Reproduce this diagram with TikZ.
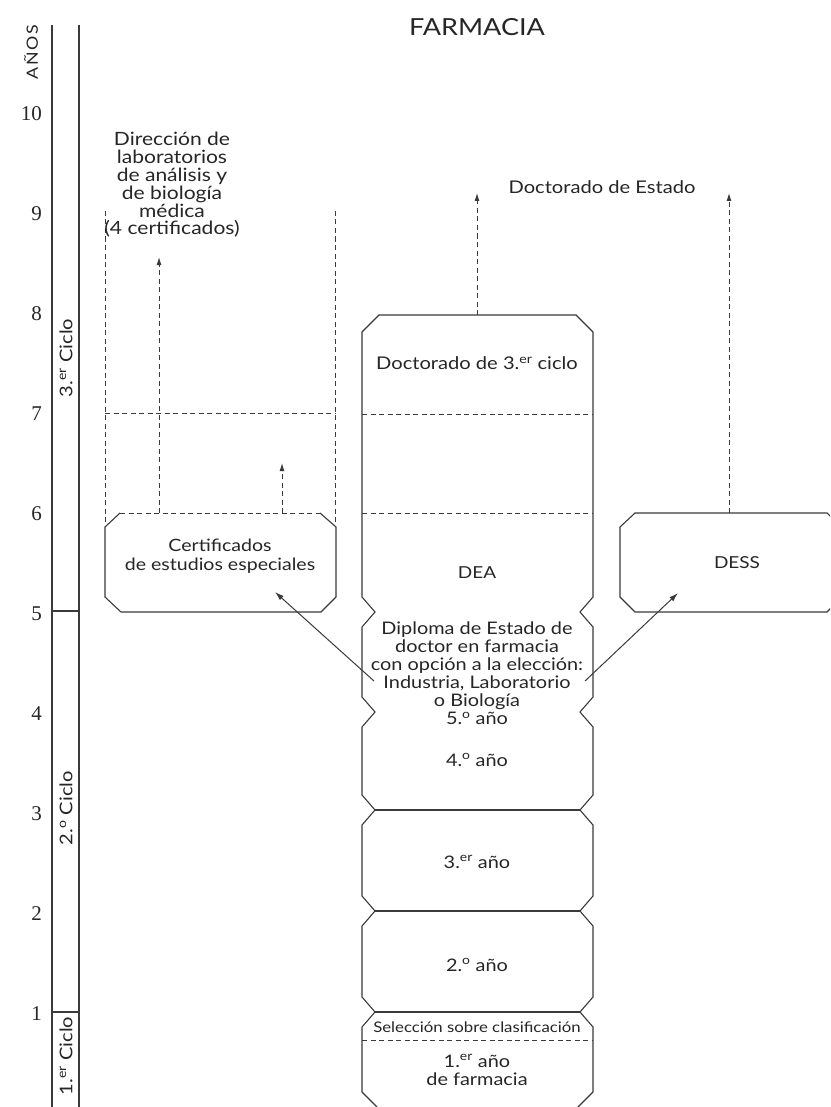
\documentclass[tikz,border=0pt]{standalone}
\usepackage{fontspec}
\setmainfont{Lato}[FakeStretch=1.15]
\newfontfamily\numfont{Liberation Serif}
\usetikzlibrary{arrows.meta}
\definecolor{ink}{HTML}{262626}
\definecolor{ln}{HTML}{3A3A3A}

\newcommand{\fs}[2]{\fontsize{#1}{#2}\selectfont}

\tikzset{
  txt/.style={font=\fs{17.3}{18}, text=ink, align=center, inner sep=0pt},
  smalltxt/.style={font=\fs{14.6}{16}, text=ink, align=center, inner sep=0pt},
  titletxt/.style={font=\fs{23.5}{26}, text=ink, inner sep=0pt},
  yearnum/.style={font=\numfont\fs{21}{22}, text=ink, anchor=east, inner sep=0pt},
  cyclelbl/.style={font=\fs{17.5}{18}, text=ink, rotate=90, inner sep=0pt},
  solidline/.style={draw=ln, line width=1.1pt, line join=miter},
  axisline/.style={draw=ln, line width=1.2pt},
  dashline/.style={draw=ln, line width=1pt, dash pattern=on 5pt off 3.5pt},
  dasharrow/.style={dashline, -{Latex[length=8pt,width=5pt]}},
  solidarrow/.style={draw=ln, line width=1pt, -{Latex[length=9pt,width=5.5pt]}}
}

\begin{document}
\begin{tikzpicture}[x=1pt,y=-1pt]
\useasboundingbox (0,0) rectangle (830,1107);
\fill[white] (0,0) rectangle (830,1107);
\clip (0,0) rectangle (830,1107);

% ---------- title ----------
\node[titletxt] (title) at (477,27) {FARMACIA};

% ---------- time axis ----------
\draw[axisline] (52,25) -- (52,1107);
\draw[axisline] (79,25) -- (79,1107);
\draw[axisline] (52,611) -- (79,611);
\draw[axisline] (52,1012) -- (79,1012);
\node[font=\fs{15.5}{17}\addfontfeature{LetterSpace=12}, text=ink, rotate=90, inner sep=0pt] (anos) at (31,52) {AÑOS};
\foreach \n in {1,...,10}{
  \node[yearnum] (yr\n) at (42,{1114-100*\n}) {\n};
}
\node[cyclelbl] (cyc3) at (66,358) {3.\textsuperscript{er} Ciclo};
\node[cyclelbl] (cyc2) at (66,808) {2.\textsuperscript{o} Ciclo};
\node[cyclelbl] (cyc1) at (66,1056) {1.\textsuperscript{er} Ciclo};

% ---------- central column ----------
\draw[solidline] (377,1107) -- (362,1092)
  -- (362,1027) -- (375,1012) -- (362,997)
  -- (362,926) -- (375,911) -- (362,896)
  -- (362,825) -- (375,810) -- (362,795)
  -- (362,727) -- (375,712) -- (362,697)
  -- (362,627) -- (375,612) -- (362,597)
  -- (362,332) -- (379,315) -- (576,315) -- (593,332)
  -- (593,597) -- (580,612) -- (593,627)
  -- (593,697) -- (580,712) -- (593,727)
  -- (593,795) -- (580,810) -- (593,825)
  -- (593,896) -- (580,911) -- (593,926)
  -- (593,997) -- (580,1012) -- (593,1027)
  -- (593,1092) -- (578,1107);
\draw[solidline] (375,810) -- (580,810);
\draw[solidline] (375,911) -- (580,911);
\draw[solidline] (375,1012) -- (580,1012);
\draw[dashline] (362,414) -- (593,414);
\draw[dashline] (362,513) -- (593,513);
\draw[dashline] (362,1040) -- (593,1040);

\node[txt, font=\fs{17.5}{18}] (doc3) at (477,363) {Doctorado de 3.\textsuperscript{er} ciclo};
\node[txt, font=\fs{16.5}{18}] (dea) at (477,573) {DEA};
\node[txt, font=\fs{17.3}{18}] (diploma) at (477,673) {Diploma de Estado de\\doctor en farmacia\\con opción a la elección:\\Industria, Laboratorio\\o Biología\\5.\textsuperscript{o} año};
\node[txt] (y4) at (477,760) {4.\textsuperscript{o} año};
\node[txt] (y3) at (477,862) {3.\textsuperscript{er} año};
\node[txt] (y2) at (477,965) {2.\textsuperscript{o} año};
\node[smalltxt] (sel) at (477,1027) {Selección sobre clasificación};
\node[txt] (y1) at (477,1070) {1.\textsuperscript{er} año\\de farmacia};

% ---------- left branch ----------
\draw[solidline] (121,612) -- (105,597) -- (105,527) -- (120,513);
\draw[solidline] (320,513) -- (336,527) -- (336,597) -- (321,612) -- (121,612);
\draw[dashline] (120,513) -- (320,513);
\draw[dashline] (105,211) -- (105,527);
\draw[dashline] (335,211) -- (335,527);
\draw[dashline] (105,413) -- (335,413);
\node[txt, font=\fs{17}{18.5}] (cert) at (220,556) {Certificados\\de estudios especiales};
\node[txt, font=\fs{18.3}{17.8}] (dir) at (172,185) {Dirección de\\laboratorios\\de análisis y\\de biología\\médica\\(4 certificados)};

% ---------- right branch ----------
\draw[solidline] (635,513) -- (827,513) -- (842,527) -- (842,597) -- (827,612)
  -- (635,612) -- (620,597) -- (620,527) -- cycle;
\node[txt, font=\fs{16.5}{18}] (dess) at (737,563) {DESS};
\node[txt, font=\fs{17.5}{18}] (doce) at (602,187) {Doctorado de Estado};

% ---------- arrows ----------
\coordinate (a1s) at (159,513); \coordinate (a1e) at (159,257);
\coordinate (a2s) at (282,513); \coordinate (a2e) at (282,463);
\coordinate (a3s) at (477,315); \coordinate (a3e) at (477,193);
\coordinate (a4s) at (729,513); \coordinate (a4e) at (729,193);
\draw[dasharrow] (a1s) -- (a1e);
\draw[dasharrow] (a2s) -- (a2e);
\draw[dasharrow] (a3s) -- (a3e);
\draw[dasharrow] (a4s) -- (a4e);

\coordinate (ls) at (374,681); \coordinate (lt) at (275,592);
\coordinate (rs) at (585,681); \coordinate (rt) at (678,593);
\draw[solidarrow] (ls) -- (lt);
\draw[solidarrow] (rs) -- (rt);
\end{tikzpicture}
\end{document}
